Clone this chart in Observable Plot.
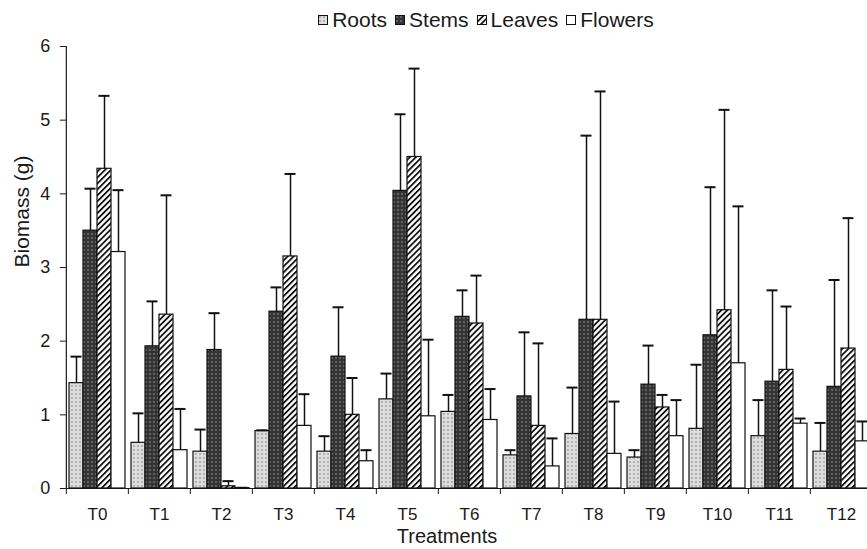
<!DOCTYPE html>
<html>
<head>
<meta charset="utf-8">
<script src="https://cdn.jsdelivr.net/npm/d3@7"></script>
<script src="https://cdn.jsdelivr.net/npm/@observablehq/plot@0.6"></script>
<style>
  html, body { margin: 0; padding: 0; background: white; overflow: hidden; }
  body { width: 867px; height: 549px; position: relative; font-family: "Liberation Sans", Arial, sans-serif; color: #1a1a1a; }
  #legend { height: 36px; box-sizing: border-box; padding-top: 3px; padding-left: 105px; display: flex; justify-content: center; align-items: center; font-size: 21px; }
  #legend .item { display: flex; align-items: center; margin: 0 4px; }
  #legend svg { margin-right: 4px; }
  #chart svg { display: block; max-width: none; }
  #xtitle { position: absolute; left: 0; width: 894px; text-align: center; top: 524px; font-size: 20px; line-height: 24px; }
</style>
</head>
<body>
<svg width="0" height="0" style="position:absolute">
  <defs>
    <pattern id="pRoots" width="4" height="4" patternUnits="userSpaceOnUse">
      <rect width="4" height="4" fill="#dedede"/>
      <circle cx="2" cy="2" r="0.9" fill="#9c9c9c"/>
    </pattern>
    <pattern id="pStems" width="4" height="4" patternUnits="userSpaceOnUse">
      <rect width="4" height="4" fill="#343434"/>
      <circle cx="2" cy="2" r="0.9" fill="#777"/>
    </pattern>
    <pattern id="pLeaves" width="4.2" height="4.2" patternUnits="userSpaceOnUse" patternTransform="rotate(45)">
      <rect width="4.2" height="4.2" fill="white"/>
      <rect width="1.8" height="4.2" fill="#111"/>
    </pattern>
  </defs>
</svg>
<div id="legend"></div>
<div id="chart"></div>
<div id="xtitle">Treatments</div>
<script>
const treatments = ["T0","T1","T2","T3","T4","T5","T6","T7","T8","T9","T10","T11","T12"];
const series = ["Roots","Stems","Leaves","Flowers"];
const yTicks = [0,1,2,3,4,5,6];

// mean biomass (g)
const roots   = [1.43, 0.62, 0.50, 0.78, 0.50, 1.21, 1.04, 0.45, 0.74, 0.42, 0.81, 0.71, 0.50];
const stems   = [3.50, 1.93, 1.88, 2.40, 1.79, 4.04, 2.33, 1.25, 2.29, 1.41, 2.08, 1.45, 1.38];
const leaves  = [4.34, 2.36, 0.03, 3.15, 1.00, 4.50, 2.24, 0.85, 2.29, 1.10, 2.42, 1.61, 1.90];
const flowers = [3.21, 0.52, 0.005, 0.85, 0.37, 0.98, 0.93, 0.30, 0.47, 0.71, 1.70, 0.88, 0.64];
// top of error bars (g)
const rootsUp   = [1.79, 1.02, 0.80, 0.79, 0.71, 1.56, 1.27, 0.52, 1.37, 0.52, 1.68, 1.20, 0.89];
const stemsUp   = [4.07, 2.54, 2.38, 2.73, 2.46, 5.08, 2.69, 2.12, 4.79, 1.94, 4.09, 2.69, 2.83];
const leavesUp  = [5.33, 3.98, 0.10, 4.27, 1.50, 5.70, 2.89, 1.97, 5.39, 1.27, 5.14, 2.47, 3.67];
const flowersUp = [4.05, 1.08, 0.01, 1.28, 0.52, 2.02, 1.35, 0.68, 1.18, 1.20, 3.83, 0.95, 0.91];

const fills = ["url(#pRoots)", "url(#pStems)", "url(#pLeaves)", "white"];
const values = [roots, stems, leaves, flowers];
const uppers = [rootsUp, stemsUp, leavesUp, flowersUp];

const data = treatments.flatMap((t, i) => series.map((s, j) => ({
  treatment: t, series: s, value: values[j][i], upper: uppers[j][i]
})));

// legend
const legend = document.getElementById("legend");
series.forEach((s, j) => {
  const item = document.createElement("div");
  item.className = "item";
  item.innerHTML = `<svg width="10" height="10"><rect x="0.5" y="0.5" width="9" height="9" fill="${fills[j]}" stroke="#111" stroke-width="1"/></svg><span>${s}</span>`;
  legend.appendChild(item);
});

const W = 867, ML = 63, MR = -8, PI = 0.1, PO = 0.05;
const step = (W - ML - MR) / (treatments.length - PI + 2 * PO);
const off = PO * step;
const bw = (1 - PI) * step / series.length;
const ink = "#1a1a1a";

const chart = Plot.plot({
  width: W,
  height: 488,
  marginLeft: ML,
  marginRight: MR,
  marginTop: 10,
  marginBottom: 36,
  style: { fontFamily: "'Liberation Sans', Arial, sans-serif", fontSize: "17px", color: ink, background: "white", overflow: "hidden" },
  fx: { domain: treatments, paddingInner: PI, paddingOuter: PO, label: null, axis: null },
  x: { domain: series, padding: 0, axis: null },
  y: { domain: [0, 6], axis: null },
  color: { type: "ordinal", domain: series, range: fills },
  marks: [
    Plot.ruleY([0], { stroke: ink, strokeWidth: 1.2, insetLeft: -off, insetRight: -off }),
    Plot.barY(data, { fx: "treatment", x: "series", y: "value", fill: "series", stroke: "#111", strokeWidth: 1.2 }),
    Plot.ruleX(data, { fx: "treatment", x: "series", y1: "value", y2: "upper", stroke: "#111", strokeWidth: 1.5 }),
    Plot.tickY(data, { fx: "treatment", x: "series", y: "upper", stroke: "#111", strokeWidth: 2, insetLeft: 1.5, insetRight: 1.5 }),
    Plot.ruleX(treatments, { fx: d => d, x: () => series[0], y1: 0, y2: 0, insetBottom: -6, dx: -(bw / 2 + off), stroke: ink }),
    Plot.ruleX(["T0"], { fx: d => d, x: () => series[0], y1: 0, y2: 6, dx: -(bw / 2 + off), stroke: ink, strokeWidth: 1.2 }),
    Plot.axisY({ ticks: yTicks, tickSize: 6, tickPadding: 10, fontSize: 18, label: null, dx: -off, tickFormat: d => d, stroke: ink }),
    Plot.axisFx({ anchor: "bottom", tickSize: 0, tickPadding: 19, fontSize: 17, label: null }),
    Plot.text(["Biomass (g)"], { fx: () => "T0", text: d => d, frameAnchor: "left", rotate: -90, dx: -47, fontSize: 21 })
  ]
});
document.getElementById("chart").appendChild(chart);
</script>
</body>
</html>
